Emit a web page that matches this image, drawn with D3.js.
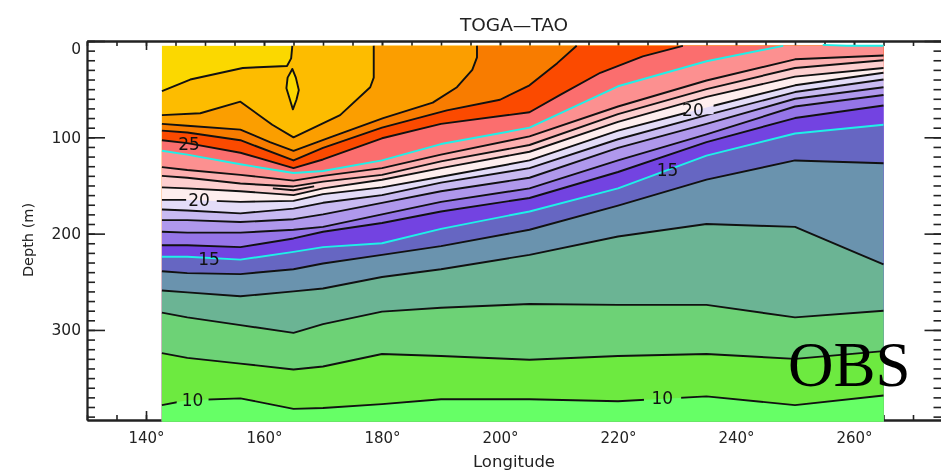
<!DOCTYPE html>
<html>
<head>
<meta charset="utf-8">
<script src="https://cdn.jsdelivr.net/npm/d3@7"></script>
<style>
html,body{margin:0;padding:0;background:#fff;overflow:hidden}
svg{display:block}
text{font-family:"DejaVu Sans",sans-serif;fill:#222}
.soft{filter:blur(0.4px)}
</style>
</head>
<body>
<svg id="chart" width="941" height="476"></svg>
<script>
// ---- data (longitude in degrees E, depth in metres) ----
const moorings = [142.7,147,156,165,170,180,190,205,220,235,250,265];
const surfaceDepth = 5, floorDepth = 395, westEdge = 142.7, eastEdge = 265;

const isoA_lon   = [142.7,147.5,156.4,163.9,164.6,164.8];
const isoA_depth = [52,40,28,26,18,5];
const isoB_lon   = [142.7,149.2,156,161.4,165,172.9,178,178.6,178.6];
const isoB_depth = [77,75,63,87,100,77,48,38,5];
const isoC_lon   = [142.7,147,156,161,165,171.2,180.2,188.6,192.7,195.3,196.1,196.1];
const isoC_depth = [86,88,92,105,114,100,80,64,48,30,17,5];
const isoD_lon   = [142.7,147,156,165,170,180,191,200,205,209.7,213];
const isoD_depth = [93,95,103,124,111,90,72,61,46,23,5];
const isoE_lon   = [142.7,147,156,165,170,180,190,205,210.2,217,224.2,231];
const isoE_depth = [103,106,116,132,123,101,86,74,56,33,16,5];
const iso25_lon   = [142.7,147,156,165,170,180,190,205,220,235,248];
const iso25_depth = [114,118,128,137,135,124,107,90,47,21,5];
const iso25b_lon   = [254.7,258.8,265];
const iso25b_depth = [3,5,5];

const isoL1 = [131,134,139,145,140,132,118,99,68,41,19,15];
const isoL2 = [140,142,148,151,146,139,125,108,76,50,28,20];
const isoL3 = [152,153,156,160,153,144,132,115,84,58,37,28];
const iso20 = [165,165,167,166,159,152,141,124,93,69,46,33];
const isoL5 = [175,176,179,174,168,160,147,132,102,77,53,40];
const isoL6 = [186,186,188,185,180,168,156,142,111,86,60,48];
const isoL7 = [198,199,199,196,193,180,167,153,124,97,68,56];
const isoL8 = [212,212,214,205,198,189,177,163,136,105,80,67];
const iso15 = [224,224,227,219,214,210,195,177,153,119,96,87];
const isoG5 = [239,241,242,237,231,222,213,196,171,144,124,127];
const isoG4 = [259,261,265,260,257,245,237,222,203,190,193,232];
const isoG3 = [282,287,295,303,294,281,277,273,274,274,287,280];
const isoG2 = [324,329,335,341,338,325,327,331,327,325,330,322];
const iso10 = [378,373,371,382,381,377,372,372,374,369,378,368];

const extra_lon = [161.5,165,168.5];
const extra_depth = [153,155,151];
const lens_lon = [164.8,164,163.8,164.4,164.9,165.5,165.9,165.4];
const lens_depth = [29,38,49,61,71,61,51,38];

const baseColor = "#fbd800";
const bandColors = ["#fdbc00","#fb9e00","#f87c00","#fb4a00","#fb6e6e","#fc9090","#fdb0b0","#fdcfcf","#feeeee",
  "#e3dcf8","#c8baf2","#af98ec","#9575e8","#7343e1","#6666c2","#6a93ae","#6bb494","#6dd276","#6dea40","#66ff66"];
const lineColors = {iso25:"#1ff0e8", iso15:"#1ff0e8"};

const majorLon = [140,160,180,200,220,240,260];
const minorLon = d3.range(130,280,5);
const majorDepth = [0,100,200,300];
const minorDepth = d3.range(0,400,10);

const labels = [
  {t:"25", lon:147.3, depth:107},
  {t:"20", lon:149,   depth:165},
  {t:"15", lon:150.7, depth:226},
  {t:"10", lon:147.9, depth:373},
  {t:"20", lon:232.7, depth:71},
  {t:"15", lon:228.4, depth:134},
  {t:"10", lon:227.5, depth:371}
];
// gaps left in a contour where a label sits: [lon0, lon1, depth0, depth1]
const gaps = [
  [146.8,152,158,172],
  [231.4,236.2,64,76],
  [145.2,150.6,360,384],
  [224.4,230.7,360,382]
];

// ---- scales ----
const x = d3.scaleLinear().domain([130,275]).range([87,942.5]);
const y = d3.scaleLinear().domain([0,393.5]).range([41,420]);
const svg = d3.select("#chart");

// ---- axes ----
const ax = svg.append("g").attr("class","soft");
function styl(g){ g.selectAll("path,line").attr("stroke","#222").attr("stroke-width",1.6); g.select(".domain").attr("stroke-width",1.8); }
function noText(g){ g.selectAll("text").remove(); }

ax.append("g").attr("transform","translate(0,41)")
  .call(d3.axisTop(x).tickValues(minorLon).tickSize(-5).tickSizeOuter(0)).call(noText).call(styl);
ax.append("g").attr("transform","translate(0,41)")
  .call(d3.axisTop(x).tickValues(majorLon).tickSize(-9).tickSizeOuter(0)).call(noText).call(styl);
ax.append("g").attr("transform","translate(0,420)")
  .call(d3.axisBottom(x).tickValues(minorLon).tickSize(-5).tickSizeOuter(0)).call(noText).call(styl);
const xLab = ax.append("g").attr("transform","translate(0,420)")
  .call(d3.axisBottom(x).tickValues(majorLon).tickSize(-9).tickSizeOuter(0).tickPadding(12).tickFormat(d=>d+"\u00b0")).call(styl);
xLab.selectAll("text").attr("font-size",15).attr("font-family","DejaVu Sans").attr("fill","#222").attr("dy","0.7em");

ax.append("g").attr("transform","translate(87,0)")
  .call(d3.axisLeft(y).tickValues(minorDepth).tickSize(-8).tickSizeOuter(0)).call(noText).call(styl);
const yLab = ax.append("g").attr("transform","translate(87,0)")
  .call(d3.axisLeft(y).tickValues(majorDepth).tickSize(-18).tickSizeOuter(0).tickPadding(6)).call(styl);
yLab.selectAll("text").attr("font-size",15.5).attr("font-family","DejaVu Sans").attr("fill","#222")
  .attr("dy",d=>d===0?"0.78em":"0.32em");
ax.append("g").attr("transform","translate(942.5,0)")
  .call(d3.axisRight(y).tickValues(minorDepth).tickSize(-9).tickSizeOuter(0)).call(noText).call(styl);
ax.append("g").attr("transform","translate(942.5,0)")
  .call(d3.axisRight(y).tickValues(majorDepth).tickSize(-18).tickSizeOuter(0)).call(noText).call(styl);

// ---- contour definitions, ordered from warm to cold ----
const grid = (depth)=>moorings.map((lon,i)=>[lon,depth[i]]);
const zip = (a,b)=>a.map((v,i)=>[v,b[i]]);
const contours = [
  {id:"a", pts:zip(isoA_lon,isoA_depth)},
  {id:"b", pts:zip(isoB_lon,isoB_depth)},
  {id:"c", pts:zip(isoC_lon,isoC_depth)},
  {id:"d", pts:zip(isoD_lon,isoD_depth)},
  {id:"e", pts:zip(isoE_lon,isoE_depth)},
  {id:"iso25", pts:zip(iso25_lon,iso25_depth)},
  {id:"l1", pts:grid(isoL1)},
  {id:"l2", pts:grid(isoL2)},
  {id:"l3", pts:grid(isoL3)},
  {id:"iso20", pts:grid(iso20)},
  {id:"l5", pts:grid(isoL5)},
  {id:"l6", pts:grid(isoL6)},
  {id:"l7", pts:grid(isoL7)},
  {id:"l8", pts:grid(isoL8)},
  {id:"iso15", pts:grid(iso15)},
  {id:"g5", pts:grid(isoG5)},
  {id:"g4", pts:grid(isoG4)},
  {id:"g3", pts:grid(isoG3)},
  {id:"g2", pts:grid(isoG2)},
  {id:"iso10", pts:grid(iso10)}
];

// ---- filled bands ----
const defs = svg.append("defs");
const mask = defs.append("mask").attr("id","labelGaps").attr("maskUnits","userSpaceOnUse")
  .attr("x",0).attr("y",0).attr("width",941).attr("height",476);
mask.append("rect").attr("width",941).attr("height",476).attr("fill","#fff");
mask.selectAll("rect.g").data(gaps).join("rect").attr("class","g")
  .attr("x",d=>x(d[0])).attr("width",d=>x(d[1])-x(d[0]))
  .attr("y",d=>y(d[2])).attr("height",d=>y(d[3])-y(d[2])).attr("fill","#000");

const field = svg.append("g").attr("class","soft");
field.append("rect").attr("x",x(westEdge)).attr("width",x(eastEdge)-x(westEdge))
  .attr("y",y(surfaceDepth)).attr("height",y(floorDepth)-y(surfaceDepth)).attr("fill",baseColor);

const area = d3.area().x(d=>x(d[0])).y0(y(floorDepth)).y1(d=>y(d[1]));
field.selectAll("path.band").data(contours).join("path").attr("class","band")
  .attr("d",c=>{
    const last = c.pts[c.pts.length-1];
    const pts = last[0]<eastEdge ? c.pts.concat([[eastEdge,surfaceDepth]]) : c.pts;
    return area(pts);
  })
  .attr("fill",(c,i)=>bandColors[i]);
field.append("path").attr("fill",baseColor)
  .attr("d",d3.line().x(d=>x(d[0])).y(d=>y(d[1])).curve(d3.curveLinearClosed)(zip(lens_lon,lens_depth)));

// ---- contour lines ----
const line = d3.line().x(d=>x(d[0])).y(d=>y(d[1]));
const lineWrap = svg.append("g").attr("class","soft");
const lines = lineWrap.append("g").attr("fill","none").attr("mask","url(#labelGaps)")
  .attr("stroke-width",1.9).attr("stroke-linejoin","round");
lines.selectAll("path.iso").data(contours).join("path").attr("class","iso")
  .attr("d",c=>line(c.pts)).attr("stroke",c=>lineColors[c.id]||"#111");
lines.append("path").attr("d",line(zip(iso25b_lon,iso25b_depth.map(d=>Math.max(d,4))))).attr("stroke",lineColors.iso25);
lines.append("path").attr("d",line(zip(extra_lon,extra_depth))).attr("stroke","#111");
lines.append("path").attr("d",line.curve(d3.curveLinearClosed)(zip(lens_lon,lens_depth))).attr("stroke","#111");

// ---- contour labels ----
svg.append("g").attr("class","soft").selectAll("text").data(labels).join("text")
  .attr("x",d=>x(d.lon)).attr("y",d=>y(d.depth)).attr("dy","0.36em")
  .attr("text-anchor","middle").attr("font-size",17).style("fill","#111").text(d=>d.t);

// ---- titles ----
const titles = svg.append("g").attr("class","soft");
titles.append("text").attr("x",514).attr("y",31).attr("text-anchor","middle").attr("font-size",18.5).text("TOGA\u2014TAO");
titles.append("text").attr("x",514).attr("y",467).attr("text-anchor","middle").attr("font-size",16.5).text("Longitude");
titles.append("text").attr("transform","translate(33,240) rotate(-90)").attr("text-anchor","middle").attr("font-size",14.5).text("Depth (m)");
svg.append("text").attr("x",788).attr("y",386).attr("font-size",63).style("font-family","'Liberation Serif',serif").style("fill","#000").text("OBS");
</script>
</body>
</html>
